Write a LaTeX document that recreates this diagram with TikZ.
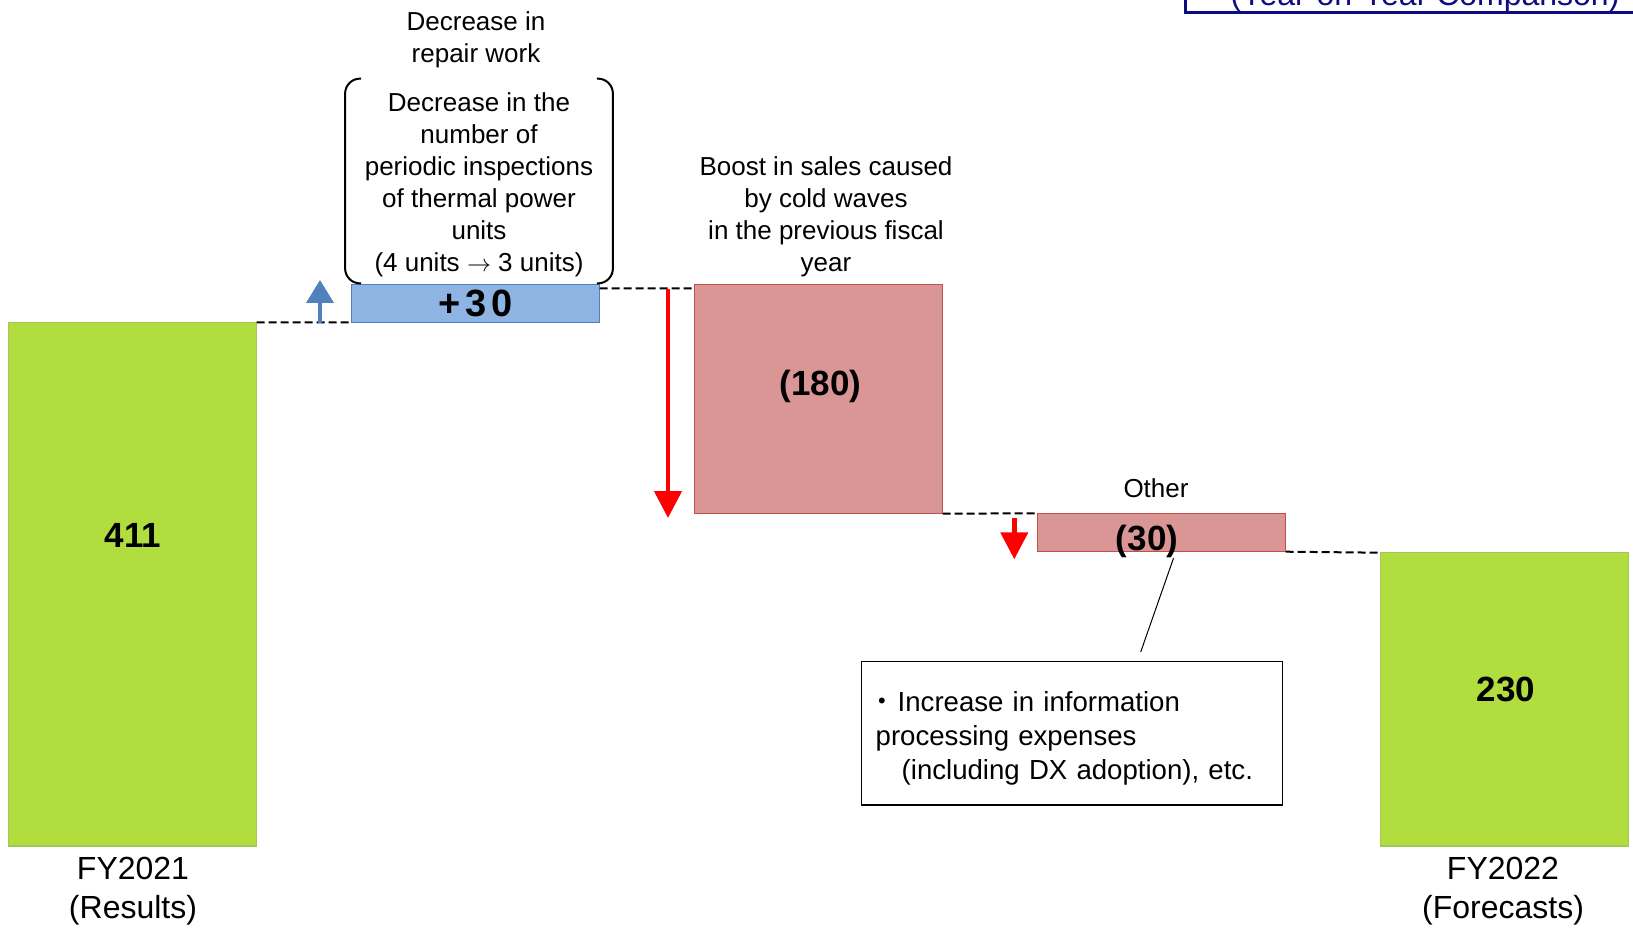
\documentclass[tikz,border=0pt]{standalone}
\usepackage{fontspec}
\setmainfont{Liberation Sans}
\newfontfamily\jpfont{Noto Sans CJK JP}
\usepackage{tikz}
\usetikzlibrary{positioning,arrows.meta,calc}
\definecolor{wfgreen}{HTML}{B1DD3F}
\definecolor{wfgreenline}{HTML}{A3C65B}
\definecolor{wfblue}{HTML}{8EB4E3}
\definecolor{wfblueline}{HTML}{4F81BD}
\definecolor{wfred}{HTML}{D99694}
\definecolor{wfredline}{HTML}{C0504D}
\definecolor{wfnavy}{HTML}{0C0C80}

\begin{document}
\begin{tikzpicture}[x=0.5pt,y=-0.5pt,
  bar/.style={draw,line width=0.75pt,minimum width=124pt,inner sep=0pt,outer sep=0pt},
  total/.style={bar,fill=wfgreen,draw=wfgreenline},
  gain/.style={bar,fill=wfblue,draw=wfblueline},
  loss/.style={bar,fill=wfred,draw=wfredline},
  num/.style={font=\bfseries\fontsize{17.5}{20}\selectfont,inner sep=0pt},
  lbl/.style={font=\fontsize{13}{16}\selectfont,align=center,inner sep=0pt},
  yearlbl/.style={font=\fontsize{16}{19.25}\selectfont,align=center,inner sep=0pt},
  link/.style={black,line width=1pt,dash pattern=on 4pt off 2pt},
  fall/.style={red,line width=2.25pt,-{Triangle[width=13.5pt,length=13.5pt]}},
  rise/.style={wfblueline,line width=2pt,-{Triangle[width=13.5pt,length=11.5pt]}}]
\useasboundingbox (0,0) rectangle (1633,930);
% bars
\node[total,minimum height=261.75pt] (fy21) at (132.5,584.25) {};
\node[gain,minimum height=19pt] (repair) at (475.5,303.3) {};
\node[loss,minimum height=114.7pt] (boost) at (818.5,399) {};
\node[loss,minimum height=19.2pt] (other) at (1161.5,532.5) {};
\node[total,minimum height=146.65pt] (fy22) at (1504.5,699.35) {};
% values
\node[num] (v21) at (133,535) {411};
\node[num,font=\bfseries\fontsize{19}{20}\selectfont] (vrepair) at (repair.center) {+\hspace{2.5pt}3\hspace{2.5pt}0};
\node[num] (vboost) at (820.7,386.5) {(180)};
\node[num] (vother) at (1147,541) {(30)};
\node[num] (v22) at (1506,689.5) {230};
% step lines
\draw[link] (fy21.north east) -- (repair.south west);
\draw[link] ([yshift=-2pt]repair.north east) -- ([yshift=-2pt]boost.north west);
\draw[link] (boost.south east) -- (other.north west);
\draw[link] (other.south east) -- (fy22.north west);
% arrows
\coordinate (riseA) at (320,323);
\coordinate (riseB) at (320,280);
\draw[rise] (riseA) -- (riseB);
\coordinate (fallA) at (668,289);
\coordinate (fallB) at (668,518);
\draw[fall] (fallA) -- (fallB);
\coordinate (dropA) at (1014.3,518);
\coordinate (dropB) at (1014.3,559.3);
\draw[fall] (dropA) -- (dropB);
% labels
\node[lbl] (repairtitle) at (476,39.5) {Decrease in\\repair work};
\node[lbl,minimum width=133.5pt,minimum height=102pt] (repairnote) at (479,181)
  {\rule{0pt}{13pt}Decrease in the\\number of\\periodic inspections\\of thermal power\\units\\(4 units $\rightarrow$ 3 units)};
\draw[line width=1pt,rounded corners=7.5pt] ([xshift=8pt]repairnote.north west) -- (repairnote.north west)
  -- (repairnote.south west) -- ([xshift=8pt]repairnote.south west);
\draw[line width=1pt,rounded corners=7.5pt] ([xshift=-8pt]repairnote.north east) -- (repairnote.north east)
  -- (repairnote.south east) -- ([xshift=-8pt]repairnote.south east);
\node[lbl] (boosttitle) at (826,216.5) {Boost in sales caused\\by cold waves\\in the previous fiscal\\year};
\node[lbl] (othertitle) at (1156,488.5) {Other};
\node[yearlbl] (fy21lbl) at (133,891) {FY2021\\(Results)};
\node[yearlbl] (fy22lbl) at (1503,891) {FY2022\\(Forecasts)};
% callout
\node[draw,line width=0.75pt,text width=196.5pt,inner xsep=7pt,minimum height=71.65pt,align=left,
  font=\fontsize{13.8}{17}\selectfont] (callout) at (1072.2,733.35)
  {\rule{0pt}{15pt}\makebox[11pt][l]{\hspace*{-3.5pt}{\jpfont ・}}Increase in information\\processing expenses\\\hspace*{13pt}(including DX adoption), etc.};
\draw[line width=0.5pt] ($(other.south)+(12,6.5)$) -- ($(callout.north)+(68.5,-9)$);
% heading box, cut by the top edge
\begin{scope}
\clip (0,0) rectangle (1633,930);
\node[draw=wfnavy,text=wfnavy,line width=1.5pt,minimum width=240pt,inner ysep=0.6pt,
  font=\fontsize{16}{19}\selectfont,anchor=south] (yoy) at (1425,14.5) {(Year-on-Year Comparison)};
\end{scope}
\end{tikzpicture}
\end{document}
